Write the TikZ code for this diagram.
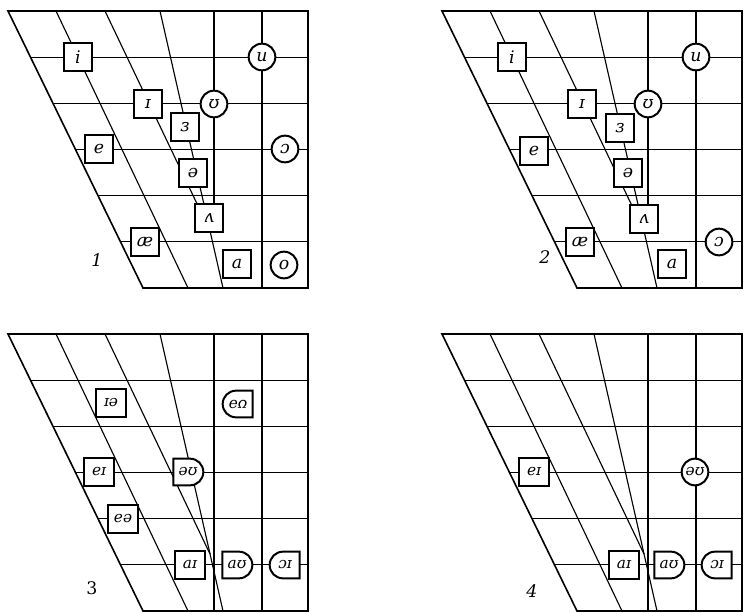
\documentclass[tikz,border=0pt]{standalone}
\usepackage{fontspec}
\newfontfamily\ipafont{DejaVu Serif}
\usetikzlibrary{shapes.misc}

\begin{document}
\begin{tikzpicture}[x=0.75pt, y=-0.75pt,
        gridline/.style={line width=0.85pt},
        frame/.style={line width=1.2pt},
        vbox/.style={rectangle, draw, line width=1.5pt, fill=white, minimum size=20.5pt, inner sep=0pt, font=\ipafont\itshape\fontsize{13}{13}\selectfont},
        vcirc/.style={vbox, circle, minimum size=20pt},
        dip/.style={font=\ipafont\itshape\fontsize{11.5}{11.5}\selectfont, minimum width=22pt},
        dright/.style={vbox, dip, rounded rectangle, rounded rectangle left arc=none, minimum width=22.5pt, minimum height=20pt},
        dleft/.style={vbox, dip, rounded rectangle, rounded rectangle right arc=none, minimum width=22.5pt, minimum height=20pt},
        num/.style={font=\ipafont\itshape\fontsize{13}{13}\selectfont}
    ]
    \useasboundingbox (0,0) rectangle (744,613);

    % Grelha comum aos quatro quadros
    \foreach \ox/\oy in {8/11, 442/11, 8/334, 442/334} {
        \begin{scope}[shift={(\ox,\oy)}]
            \draw[frame] (135,277) -- (0,0) -- (300,0) -- (300,277) -- cycle;
            \draw[gridline] (48,0) -- (180,277);
            \draw[gridline] (97,0) -- (202,220);
            \draw[gridline] (152,0) -- (215,277);
            \foreach \r in {1,...,5}
                \draw[gridline] ({22.5*\r},{277*\r/6}) -- (300,{277*\r/6});
            \draw[gridline] (254,0) -- (254,277);
        \end{scope}
    }

    % Quadro 1
    \begin{scope}[shift={(8,11)}]
        \coordinate (p1top) at (206,0);
        \node[vbox]  (p1i)  at (70,46)   {i};
        \node[vcirc] (p1u)  at (254,46)  {u};
        \node[vbox]  (p1I)  at (140,93)  {ɪ};
        \node[vcirc] (p1U)  at (206,93)  {ʊ};
        \node[vbox]  (p1er) at (177,116) {ɜ};
        \node[vbox]  (p1e)  at (91,138)  {e};
        \node[vcirc] (p1oo) at (277,138) {ɔ};
        \node[vbox]  (p1sw) at (185,162) {ə};
        \node[vbox]  (p1v)  at (201,207) {ʌ};
        \node[vbox]  (p1ae) at (137,231) {æ};
        \node[vbox]  (p1a)  at (229,253) {a};
        \node[vcirc] (p1o)  at (276,254) {o};
        \draw[gridline] (p1top) -- (p1U);
        \draw[gridline] (p1U) -- (p1v.north -| p1U);
        \node[num] (p1n) at (89,249) {1};
    \end{scope}

    % Quadro 2
    \begin{scope}[shift={(442,11)}]
        \coordinate (p2top) at (206,0);
        \node[vbox]  (p2i)  at (70,46)   {i};
        \node[vcirc] (p2u)  at (254,46)  {u};
        \node[vbox]  (p2I)  at (140,93)  {ɪ};
        \node[vcirc] (p2U)  at (206,93)  {ʊ};
        \node[vbox]  (p2er) at (178,117) {ɜ};
        \node[vbox]  (p2e)  at (92,140)  {e};
        \node[vbox]  (p2sw) at (186,162) {ə};
        \node[vbox]  (p2v)  at (202,208) {ʌ};
        \node[vbox]  (p2ae) at (138,231) {æ};
        \node[vcirc] (p2oo) at (277,231) {ɔ};
        \node[vbox]  (p2a)  at (230,253) {a};
        \draw[gridline] (p2top) -- (p2U);
        \draw[gridline] (p2U) -- (p2v.north -| p2U);
        \node[num] (p2n) at (103,246) {2};
    \end{scope}

    % Quadro 3
    \begin{scope}[shift={(8,334)}]
        \coordinate (p3top) at (206,0);
        \coordinate (p3bot) at (206,277);
        \draw[gridline] (p3top) -- (p3bot);
        \node[vbox, dip]           (p3ie) at (103,69)  {ɪə};
        \node[dright, rotate=180]  (p3ue) at (230,70)  {ʊə};
        \node[vbox, dip]           (p3ei) at (91,138)  {eɪ};
        \node[dright]              (p3ou) at (180,138) {əʊ};
        \node[vbox, dip]           (p3ea) at (115,185) {eə};
        \node[vbox, dip]           (p3ai) at (182,231) {aɪ};
        \node[dright]              (p3au) at (229,231) {aʊ};
        \node[dleft]               (p3oi) at (277,231) {ɔɪ};
        \node[num, font=\ipafont\fontsize{13}{13}\selectfont] (p3n) at (84,254) {3};
    \end{scope}

    % Quadro 4
    \begin{scope}[shift={(442,334)}]
        \coordinate (p4top) at (206,0);
        \coordinate (p4bot) at (206,277);
        \draw[gridline] (p4top) -- (p4bot);
        \node[vbox, dip]  (p4ei) at (92,138)  {eɪ};
        \node[vcirc, dip, minimum size=20pt] (p4ou) at (253,138) {əʊ};
        \node[vbox, dip]  (p4ai) at (182,231) {aɪ};
        \node[dright]     (p4au) at (227,231) {aʊ};
        \node[dleft]      (p4oi) at (275,231) {ɔɪ};
        \node[num] (p4n) at (90,257) {4};
    \end{scope}

\end{tikzpicture}
\end{document}
